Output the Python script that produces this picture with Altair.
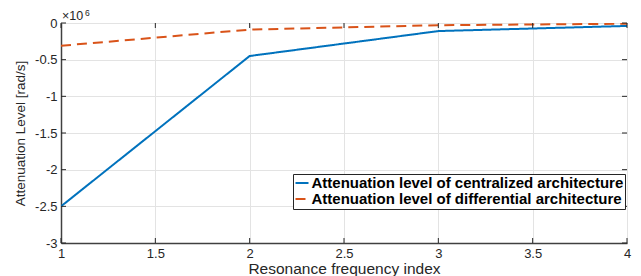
import altair as alt
import pandas as pd

# Data (values in units of 1e6 rad/s)
x_index = [1, 2, 3, 4]
centralized = [-2.50, -0.45, -0.11, -0.04]
differential = [-0.31, -0.09, -0.03, -0.01]
series_names = ["Attenuation level of centralized architecture",
                "Attenuation level of differential architecture"]
x_ticks = [1, 1.5, 2, 2.5, 3, 3.5, 4]
y_ticks = [0, -0.5, -1, -1.5, -2, -2.5, -3]

rows = []
for xi, c, d in zip(x_index, centralized, differential):
    rows.append({"x": xi, "y": c, "s": series_names[0]})
    rows.append({"x": xi, "y": d, "s": series_names[1]})
df = pd.DataFrame(rows)

W, H = 566, 220
FONT = "Liberation Sans"
AX = "#262626"

xscale = alt.Scale(domain=[1, 4], nice=False, zero=False)
yscale = alt.Scale(domain=[-3, 0], nice=False, zero=False)

xaxis = alt.Axis(values=x_ticks, title="Resonance frequency index",
                 labelFlush=False, labelOverlap=False, ticks=False,
                 labelExpr="'' + datum.value", titlePadding=1, titleFontSize=15.5)
yaxis = alt.Axis(values=y_ticks, title="Attenuation Level [rad/s]",
                 labelOverlap=False, ticks=False,
                 labelExpr="'' + datum.value", titlePadding=7, titleFontSize=13.5)

lines = alt.Chart(df).mark_line(strokeWidth=2, clip=True).encode(
    x=alt.X("x:Q", scale=xscale, axis=xaxis),
    y=alt.Y("y:Q", scale=yscale, axis=yaxis),
    color=alt.Color("s:N", scale=alt.Scale(domain=series_names, range=["#0072BD", "#D95319"]),
                    legend=alt.Legend(title=None, orient="none", legendX=232, legendY=151)),
    strokeDash=alt.StrokeDash("s:N", scale=alt.Scale(domain=series_names, range=[[1, 0], [10, 6]]),
                              legend=alt.Legend(title=None, orient="none", legendX=232, legendY=151)),
)

# inward ticks on all four sides
xt = pd.DataFrame({"t": x_ticks})
yt = pd.DataFrame({"t": y_ticks})
tick_bottom = alt.Chart(xt).mark_rule(color=AX, strokeWidth=1).encode(
    x=alt.X("t:Q", scale=xscale, axis=xaxis), y=alt.value(H), y2=alt.value(H - 5))
tick_top = alt.Chart(xt).mark_rule(color=AX, strokeWidth=1).encode(
    x=alt.X("t:Q", scale=xscale, axis=xaxis), y=alt.value(0), y2=alt.value(5))
tick_left = alt.Chart(yt).mark_rule(color=AX, strokeWidth=1).encode(
    y=alt.Y("t:Q", scale=yscale, axis=yaxis), x=alt.value(0), x2=alt.value(5))
tick_right = alt.Chart(yt).mark_rule(color=AX, strokeWidth=1).encode(
    y=alt.Y("t:Q", scale=yscale, axis=yaxis), x=alt.value(W), x2=alt.value(W - 5))

exp_base = alt.Chart(pd.DataFrame({"t": ["×10"]})).mark_text(
    align="left", baseline="alphabetic", fontSize=12.5, font=FONT, color=AX
).encode(text="t:N", x=alt.value(1), y=alt.value(-3))
exp_sup = alt.Chart(pd.DataFrame({"t": ["6"]})).mark_text(
    align="left", baseline="alphabetic", fontSize=8.5, font=FONT, color=AX
).encode(text="t:N", x=alt.value(24), y=alt.value(-7))

chart = alt.layer(lines, tick_bottom, tick_top, tick_left, tick_right, exp_base, exp_sup).properties(
    width=W, height=H,
    autosize=alt.AutoSizeParams(type="none"),
    padding={"left": 53, "top": 15, "right": 6, "bottom": 33},
).resolve_scale(x="shared", y="shared").configure_view(
    stroke=AX, strokeWidth=1
).configure_axis(
    labelFont=FONT, titleFont=FONT, labelFontSize=13,
    labelColor=AX, titleColor=AX, titleFontWeight="normal",
    domainColor="#404040", domainWidth=1.5,
    gridColor="#e3e3e3", gridWidth=1, labelPadding=4,
).configure_legend(
    labelFont=FONT, labelFontSize=15, labelFontWeight="bold", labelColor="#000000",
    symbolType="stroke", symbolStrokeWidth=2, symbolSize=169,
    strokeColor=AX, fillColor="white", padding=1.5, cornerRadius=0,
    rowPadding=0, labelOffset=2, labelLimit=0,
)

chart.save("out.html", embed_options={"renderer": "svg", "actions": False})
